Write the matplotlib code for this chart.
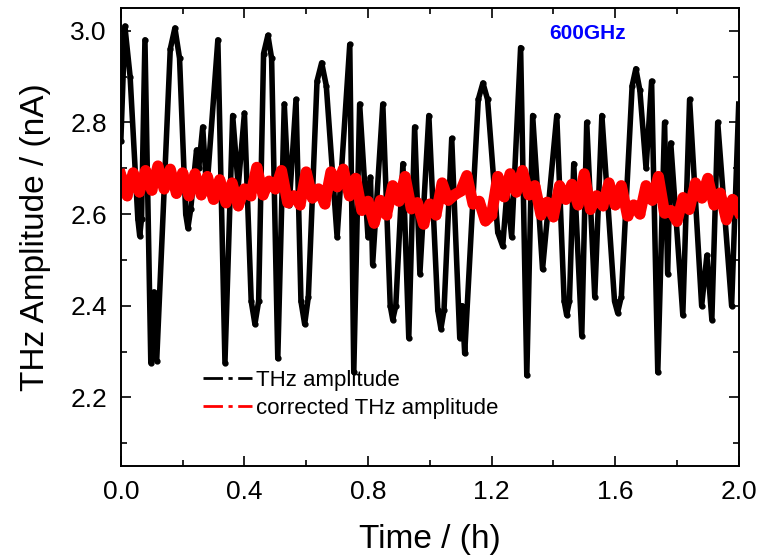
import matplotlib
matplotlib.use('Agg')
import matplotlib.pyplot as plt
from matplotlib.lines import Line2D
import numpy as np

plt.rcParams['font.family'] = ['Liberation Sans', 'DejaVu Sans']

# THz amplitude (black): turning points (and a few shoulders), time in h
thz_t = [0.000, 0.013, 0.030, 0.055, 0.061, 0.067, 0.078, 0.097, 0.107, 0.116,
         0.140, 0.160, 0.175, 0.190, 0.210, 0.217, 0.226, 0.245, 0.252, 0.265,
         0.278, 0.314, 0.337, 0.362, 0.380, 0.400, 0.422, 0.434, 0.446, 0.462,
         0.476, 0.488, 0.508, 0.529, 0.545, 0.567, 0.583, 0.595, 0.607, 0.635,
         0.650, 0.665, 0.700, 0.741, 0.754, 0.773, 0.800, 0.808, 0.815, 0.848,
         0.872, 0.880, 0.890, 0.913, 0.932, 0.951, 0.968, 0.997, 1.026, 1.036,
         1.046, 1.071, 1.097, 1.105, 1.113, 1.157, 1.172, 1.187, 1.220, 1.236,
         1.250, 1.265, 1.294, 1.314, 1.333, 1.365, 1.411, 1.435, 1.443, 1.452,
         1.466, 1.492, 1.508, 1.534, 1.557, 1.598, 1.608, 1.620, 1.655, 1.667,
         1.680, 1.700, 1.718, 1.738, 1.760, 1.770, 1.780, 1.819, 1.841, 1.880,
         1.897, 1.913, 1.932, 1.977, 2.000]
thz_v = [2.76, 3.01, 2.90, 2.59, 2.553, 2.59, 2.98, 2.276, 2.43, 2.28,
         2.65, 2.96, 3.006, 2.94, 2.60, 2.57, 2.61, 2.74, 2.70, 2.79,
         2.65, 2.98, 2.276, 2.815, 2.66, 2.82, 2.41, 2.36, 2.41, 2.95,
         2.99, 2.94, 2.285, 2.84, 2.62, 2.85, 2.41, 2.36, 2.42, 2.89,
         2.93, 2.88, 2.55, 2.97, 2.255, 2.84, 2.55, 2.68, 2.49, 2.84,
         2.40, 2.37, 2.40, 2.71, 2.33, 2.79, 2.47, 2.815, 2.39, 2.35,
         2.39, 2.765, 2.33, 2.40, 2.296, 2.85, 2.886, 2.85, 2.56, 2.53,
         2.65, 2.55, 2.963, 2.248, 2.815, 2.48, 2.815, 2.41, 2.38, 2.41,
         2.71, 2.335, 2.80, 2.42, 2.815, 2.41, 2.385, 2.42, 2.88, 2.917,
         2.87, 2.70, 2.89, 2.255, 2.80, 2.47, 2.755, 2.38, 2.85, 2.40,
         2.51, 2.37, 2.80, 2.40, 2.84]

# corrected THz amplitude (red), sampled every 0.02 h
corr_t = np.linspace(0, 2, 101)
corr_v = [2.685, 2.640, 2.690, 2.648, 2.695, 2.652, 2.705, 2.655, 2.698, 2.645,
          2.690, 2.640, 2.688, 2.642, 2.682, 2.632, 2.675, 2.625, 2.668, 2.618,
          2.655, 2.640, 2.702, 2.642, 2.672, 2.655, 2.695, 2.625, 2.640, 2.620,
          2.692, 2.635, 2.655, 2.622, 2.692, 2.660, 2.698, 2.640, 2.678, 2.608,
          2.628, 2.580, 2.630, 2.598, 2.662, 2.628, 2.682, 2.612, 2.625, 2.578,
          2.622, 2.598, 2.668, 2.630, 2.642, 2.650, 2.684, 2.622, 2.628, 2.585,
          2.598, 2.682, 2.638, 2.688, 2.648, 2.695, 2.642, 2.662, 2.598, 2.626,
          2.594, 2.662, 2.632, 2.665, 2.620, 2.688, 2.610, 2.640, 2.618, 2.668,
          2.620, 2.662, 2.596, 2.620, 2.600, 2.662, 2.630, 2.682, 2.602, 2.608,
          2.584, 2.636, 2.610, 2.668, 2.635, 2.678, 2.620, 2.646, 2.588, 2.632,
          2.605]

x_ticks = [0.0, 0.4, 0.8, 1.2, 1.6, 2.0]
y_ticks = [2.2, 2.4, 2.6, 2.8, 3.0]

fig = plt.figure(figsize=(7.6, 5.57), dpi=100)
ax = fig.add_axes([0.159, 0.163, 0.813, 0.823])

ax.plot(thz_t, thz_v, '-', color='black', lw=4, marker='o', ms=3.5,
        solid_joinstyle='round')
ax.plot(corr_t, corr_v, '-', color='red', lw=8, marker='o', ms=6,
        solid_joinstyle='round')

ax.set_xlim(0, 2.0)
ax.set_ylim(2.05, 3.05)
ax.set_xticks(x_ticks)
ax.set_xticks(np.arange(0.2, 2.0, 0.4), minor=True)
ax.set_yticks(y_ticks)
ax.set_yticks([2.1, 2.3, 2.5, 2.7, 2.9], minor=True)
ax.tick_params(which='both', direction='in', top=True, right=True, labelsize=19, width=1.2)
ax.tick_params(which='major', length=7, pad=10)
ax.tick_params(which='minor', length=4)
for s in ax.spines.values():
    s.set_linewidth(1.4)

ax.set_xlabel('Time / (h)', fontsize=24, labelpad=14)
ax.set_ylabel('THz Amplitude / (nA)', fontsize=24, labelpad=14)

ax.text(0.755, 0.945, '600GHz', transform=ax.transAxes, color='blue',
        fontsize=15, fontweight='bold', ha='center', va='center')

handles = [Line2D([], [], color='black', lw=2, dashes=(7, 2, 1.5, 2)),
           Line2D([], [], color='red', lw=2, dashes=(7, 2, 1.5, 2))]
ax.legend(handles, ['THz amplitude', 'corrected THz amplitude'], loc='lower left',
          bbox_to_anchor=(0.1, 0.06), frameon=False, fontsize=16,
          handlelength=2.2, handletextpad=0.2, labelspacing=0.3)

fig.savefig('out.png', dpi=100)
